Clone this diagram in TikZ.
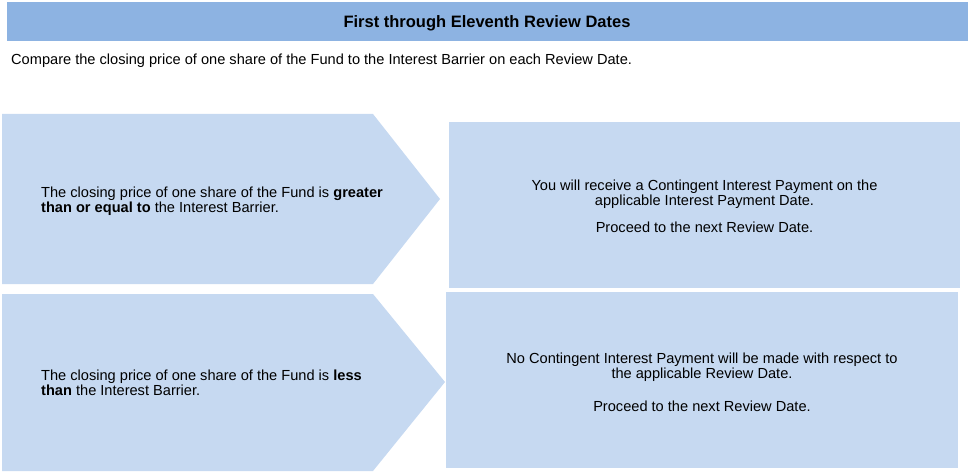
\documentclass[tikz,border=0pt]{standalone}
\usepackage{fontspec}
\setmainfont{Liberation Sans}
\definecolor{hdr}{RGB}{141,179,226}
\definecolor{lite}{RGB}{198,217,241}
\tikzset{
  txt/.style={inner sep=0pt, font=\fontsize{14.6}{15}\selectfont, text=black},
  lbl/.style={txt, align=left, anchor=north west},
  res/.style={txt, align=center, anchor=north},
}
\begin{document}
\begin{tikzpicture}[x=1pt,y=-1pt]
\useasboundingbox (0,0) rectangle (968,473);
% header band
\fill[hdr] (7,2) rectangle (968,41);
\node[txt, font=\fontsize{16.5}{18}\selectfont\bfseries, anchor=base] (title) at (487,27.5) {First through Eleventh Review Dates};
\node[txt, anchor=base west] (intro) at (11,65) {Compare the closing price of one share of the Fund to the Interest Barrier on each Review Date.};
% arrows
\fill[lite] (2,114) -- (373,114) -- (440,199) -- (373,284) -- (2,284) -- cycle;
\fill[lite] (2,294) -- (373,294) -- (445,382) -- (373,471) -- (2,471) -- cycle;
% result boxes
\fill[lite] (449,122) rectangle (960,288);
\fill[lite] (446,292) rectangle (958,468);
% texts
\node[lbl] (c1) at (41,186.4) {The closing price of one share of the Fund is \textbf{greater}\\\textbf{than or equal to} the Interest Barrier.};
\node[lbl] (c2) at (41,369.4) {The closing price of one share of the Fund is \textbf{less}\\\textbf{than} the Interest Barrier.};
\node[res] (r1) at (704.5,179.4) {You will receive a Contingent Interest Payment on the\\applicable Interest Payment Date.\\[12pt]Proceed to the next Review Date.};
\node[res] (r2) at (702,352.4) {No Contingent Interest Payment will be made with respect to\\the applicable Review Date.\\[18pt]Proceed to the next Review Date.};
\end{tikzpicture}
\end{document}
